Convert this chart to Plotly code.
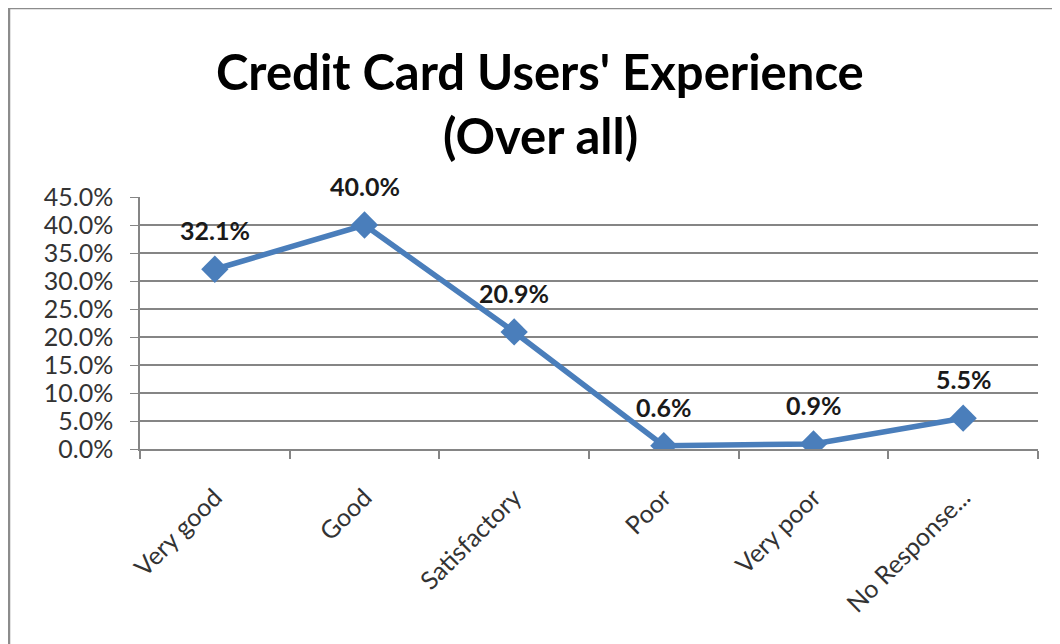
import plotly.graph_objects as go

categories = ["Very good", "Good", "Satisfactory", "Poor", "Very poor", "No Response..."]
values = [32.1, 40.0, 20.9, 0.6, 0.9, 5.5]
y_ticks = [0, 5, 10, 15, 20, 25, 30, 35, 40, 45]
y_tick_labels = [f"{v:.1f}%" for v in y_ticks]
title_line1 = "Credit Card Users' Experience"
title_line2 = "(Over all)"

BLUE = "#4a7ebb"
GRID = "#858585"
FONT = "Lato"

OFF = 8  # page body offset
W, H = 1060 - OFF, 644 - OFF
# target screen positions of the plot area
SX0, SX1, SY0, SY1 = 140, 1038, 197, 449
L = SX0 - OFF
T = SY0 - OFF
pw = SX1 - SX0
ph = SY1 - SY0
R = W - L - pw
B = H - T - ph

def px_to_paper_x(sx):
    return (sx - SX0) / pw

def px_to_paper_y(sy):
    return (SY1 - sy) / ph

fig = go.Figure()
fig.add_trace(go.Scatter(
    x=categories, y=values, mode="lines+markers",
    line=dict(color=BLUE, width=5.5),
    marker=dict(symbol="diamond", size=21, color=BLUE),
    hoverinfo="skip", showlegend=False,
))

for c, v in zip(categories, values):
    fig.add_annotation(x=c, y=v, text=f"<b>{v:.1f}%</b>", showarrow=False,
                       yshift=39, font=dict(family=FONT, size=25, color="#1a1a1a"))

fig.add_annotation(xref="paper", yref="paper", x=px_to_paper_x(540), y=px_to_paper_y(71),
                   yanchor="middle", xanchor="center",
                   text=f"<b>{title_line1}</b>", showarrow=False,
                   font=dict(family=FONT, size=49, color="#000000"))
fig.add_annotation(xref="paper", yref="paper", x=px_to_paper_x(540), y=px_to_paper_y(135),
                   yanchor="middle", xanchor="center",
                   text=f"<b>{title_line2}</b>", showarrow=False,
                   font=dict(family=FONT, size=49, color="#000000"))

# outer chart frame: only the left and top edges are visible in the cropped reference
fig.add_shape(type="line", xref="paper", yref="paper",
              x0=px_to_paper_x(9), x1=px_to_paper_x(9),
              y0=px_to_paper_y(644), y1=px_to_paper_y(8),
              line=dict(color="#8c8c8c", width=2.5), layer="below")
fig.add_shape(type="line", xref="paper", yref="paper",
              x0=px_to_paper_x(9), x1=px_to_paper_x(1070),
              y0=px_to_paper_y(8), y1=px_to_paper_y(8),
              line=dict(color="#8c8c8c", width=2.5), layer="below")

fig.update_layout(
    width=W, height=H,
    margin=dict(l=L, r=R, t=T, b=B),
    paper_bgcolor="white", plot_bgcolor="white",
    xaxis=dict(
        type="category", range=[-0.5, 5.5],
        showgrid=False, showline=True, linecolor=GRID, linewidth=2,
        ticks="outside", ticklen=8, tickcolor=GRID, tickwidth=1.5,
        tickson="boundaries",
        tickangle=-45, tickfont=dict(family=FONT, size=25, color="#333333"),
        ticklabelstandoff=22,
    ),
    yaxis=dict(
        range=[0, 45], tickvals=y_ticks, ticktext=y_tick_labels,
        showgrid=True, gridcolor=GRID, gridwidth=1.5,
        showline=True, linecolor=GRID, linewidth=1.5,
        ticks="outside", ticklen=8, tickcolor=GRID,
        tickfont=dict(family=FONT, size=25, color="#333333"),
        ticklabelstandoff=12, zeroline=False,
    ),
)

fig.write_html("out.html")
